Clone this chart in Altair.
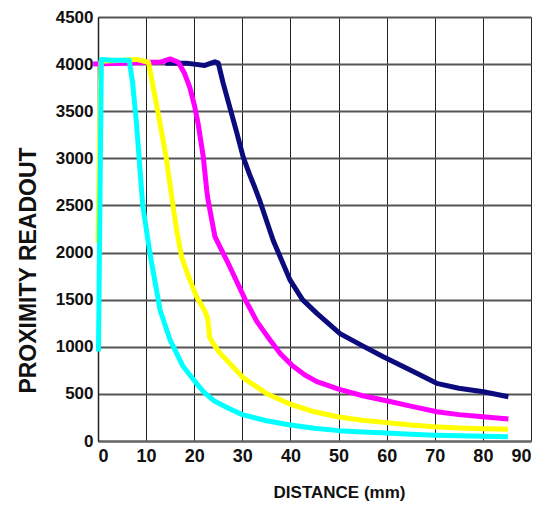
import altair as alt
import pandas as pd

series_names = ["navy", "magenta", "yellow", "cyan"]
series_colors = ["#0b0b7d", "#ff00ff", "#ffff00", "#00ffff"]

navy_x = [14, 18.4, 20, 22.2, 23.5, 24.3, 25, 26, 27.4, 28.8, 30.2, 31.5, 32.6, 33.7, 36.4, 39.9, 42.5, 45.5, 50.3, 55, 59.3, 65, 70.4, 75, 80.1, 85.3]
navy_y = [4010, 4010, 4000, 3986, 4010, 4025, 4010, 3800, 3540, 3280, 3010, 2830, 2690, 2540, 2130, 1710, 1500, 1354, 1140, 1010, 894, 750, 612, 560, 523, 470]

magenta_x = [-1, 5, 10, 13, 15, 16.7, 18, 19.1, 20.1, 20.8, 21.9, 22.6, 22.9, 24.3, 27.4, 30.6, 33, 35.8, 38, 40.3, 43, 45.5, 50, 55, 60.7, 65, 70.4, 75, 80, 85.3]
magenta_y = [4000, 4010, 4020, 4020, 4055, 4020, 3900, 3750, 3550, 3370, 3010, 2660, 2550, 2170, 1850, 1500, 1270, 1070, 920, 805, 700, 630, 550, 480, 420, 370, 310, 280, 258, 233]

yellow_x = [0.0, 0.6, 5, 8, 10.5, 11.5, 12.9, 14.2, 15.3, 16.3, 17.4, 19, 20.5, 22.2, 22.8, 23.2, 24, 25.4, 28, 30.2, 35, 40, 45, 50, 55, 60, 65, 70, 75, 80, 85.2]
yellow_y = [2100, 4030, 4040, 4050, 4020, 3750, 3370, 3000, 2600, 2250, 1950, 1720, 1530, 1380, 1300, 1100, 1030, 930, 790, 670, 505, 390, 310, 255, 220, 195, 170, 150, 138, 130, 124]

cyan_x = [0.1, 0.7, 3, 6.5, 7.2, 8.0, 8.7, 9.3, 10.8, 12.9, 15, 17.7, 20.5, 22, 24, 27, 30, 35, 40, 45, 50, 55, 60, 65, 70, 75, 80, 85.2]
cyan_y = [950, 4050, 4040, 4040, 3800, 3370, 2900, 2500, 1990, 1390, 1070, 790, 610, 520, 430, 350, 280, 215, 170, 135, 110, 95, 85, 72, 62, 55, 50, 45]

x_ticks = [0, 10, 20, 30, 40, 50, 60, 70, 80, 90]
y_ticks = [0, 500, 1000, 1500, 2000, 2500, 3000, 3500, 4000, 4500]

rows = []
for name, xs, ys in [("navy", navy_x, navy_y), ("magenta", magenta_x, magenta_y),
                     ("yellow", yellow_x, yellow_y), ("cyan", cyan_x, cyan_y)]:
    for i, (a, b) in enumerate(zip(xs, ys)):
        rows.append({"series": name, "distance": a, "readout": b, "idx": i})
df = pd.DataFrame(rows)

label_font = "Liberation Sans"

x_enc = alt.X("distance:Q",
              scale=alt.Scale(domain=[0, 90], nice=False, zero=False),
              axis=alt.Axis(values=x_ticks, format="d", title="DISTANCE (mm)", grid=True,
                            gridColor="#222222", gridWidth=1, gridOpacity=1,
                            domainColor="#666666", domainWidth=2,
                            ticks=False, labelPadding=6,
                            labelFont=label_font, labelFontSize=18, labelFontWeight="bold",
                            labelColor="#111111",
                            titleFont=label_font, titleFontSize=17, titleFontWeight="bold",
                            titleColor="#111111", titleX=241, titleY=51,
                            titleAlign="center", titleBaseline="middle"))
y_enc = alt.Y("readout:Q",
              scale=alt.Scale(domain=[0, 4500], nice=False),
              axis=alt.Axis(values=y_ticks, format="d", title="PROXIMITY READOUT", grid=True,
                            gridColor="#555555", gridWidth=2, gridOpacity=1,
                            domainColor="#222222", domainWidth=1.5,
                            ticks=False, labelPadding=5,
                            labelFont=label_font, labelFontSize=17, labelFontWeight="bold",
                            labelColor="#111111",
                            titleFont=label_font, titleFontSize=23, titleFontWeight="bold",
                            titleColor="#111111", titleX=-70, titleY=253,
                            titleAlign="center", titleBaseline="middle"))

layers = []
for name, col in zip(series_names, series_colors):
    layers.append(
        alt.Chart(df).transform_filter(alt.datum.series == name)
        .mark_line(strokeWidth=5, strokeCap="butt", strokeJoin="round", color=col)
        .encode(x=x_enc, y=y_enc, order="idx:Q")
    )

chart = alt.layer(*layers).properties(
    width=433, height=424,
    autosize=alt.AutoSizeParams(type="none"),
    padding={"left": 90, "top": 9, "right": 12, "bottom": 64},
).configure_view(stroke=None).configure(background="white")

chart.save("out.html", embed_options={"renderer": "svg", "actions": False})
